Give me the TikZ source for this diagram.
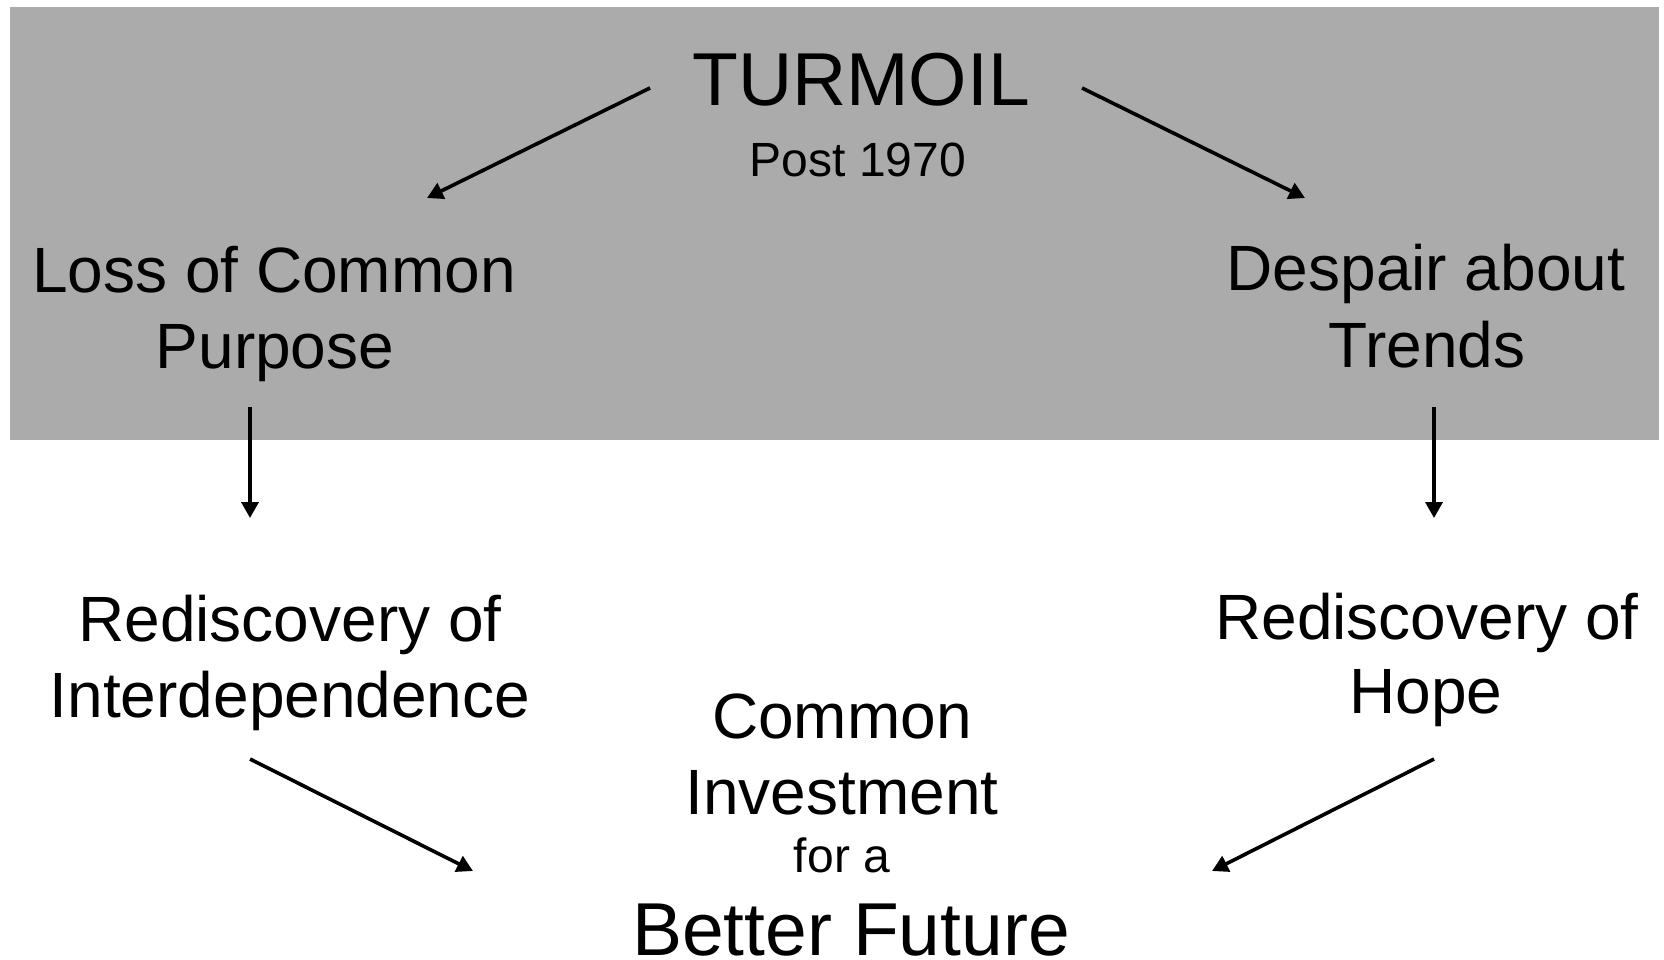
\documentclass[tikz,border=0pt]{standalone}
\usepackage{fontspec}
\setmainfont{Liberation Sans}
\usetikzlibrary{arrows.meta}
\definecolor{bandgray}{HTML}{ABABAB}
\tikzset{
  big/.style={font=\fontsize{75}{80}\selectfont, inner sep=0pt, anchor=base},
  mid/.style={font=\fontsize{64}{70}\selectfont, inner sep=0pt, anchor=base},
  small/.style={font=\fontsize{48}{52}\selectfont, inner sep=0pt, anchor=base},
  arr/.style={line width=3.6pt, -{Triangle[length=16pt,width=17pt]}}
}
\begin{document}
\begin{tikzpicture}[x=1pt,y=-1pt]
\useasboundingbox (0,0) rectangle (1664,960);
\fill[bandgray] (10,7) rectangle (1659,440);
% texts
\node[big] (turmoil) at (861,106) {TURMOIL};
\node[small] (post) at (858,177) {Post 1970};
\node[mid] (loss1) at (274,292) {Loss of Common};
\node[mid] (loss2) at (275,368) {Purpose};
\node[mid] (desp1) at (1426,290) {Despair about};
\node[mid] (desp2) at (1427,367) {Trends};
\node[mid] (redi1) at (290,641) {Rediscovery of};
\node[mid] (redi2) at (290,717) {Interdependence};
\node[mid] (hope1) at (1427,639) {Rediscovery of};
\node[mid] (hope2) at (1426,713) {Hope};
\node[mid] (common) at (842,738) {Common};
\node[mid] (invest) at (842,814) {Investment};
\node[small] (fora) at (842,872) {for a};
\node[big, text depth=0pt] (better) at (851,955) {Better Future};
% connector ends
\coordinate (a1s) at (650,88);   \coordinate (a1e) at (427,198);
\coordinate (a2s) at (1082,88);  \coordinate (a2e) at (1305,198);
\coordinate (a3s) at (250,407);  \coordinate (a3e) at (250,518);
\coordinate (a4s) at (1434,407); \coordinate (a4e) at (1434,518);
\coordinate (a5s) at (250,759);  \coordinate (a5e) at (473,871);
\coordinate (a6s) at (1434,759); \coordinate (a6e) at (1212,871);
\draw[arr] (a1s) -- (a1e);
\draw[arr] (a2s) -- (a2e);
\draw[arr] (a3s) -- (a3e);
\draw[arr] (a4s) -- (a4e);
\draw[arr] (a5s) -- (a5e);
\draw[arr] (a6s) -- (a6e);
\end{tikzpicture}
\end{document}
